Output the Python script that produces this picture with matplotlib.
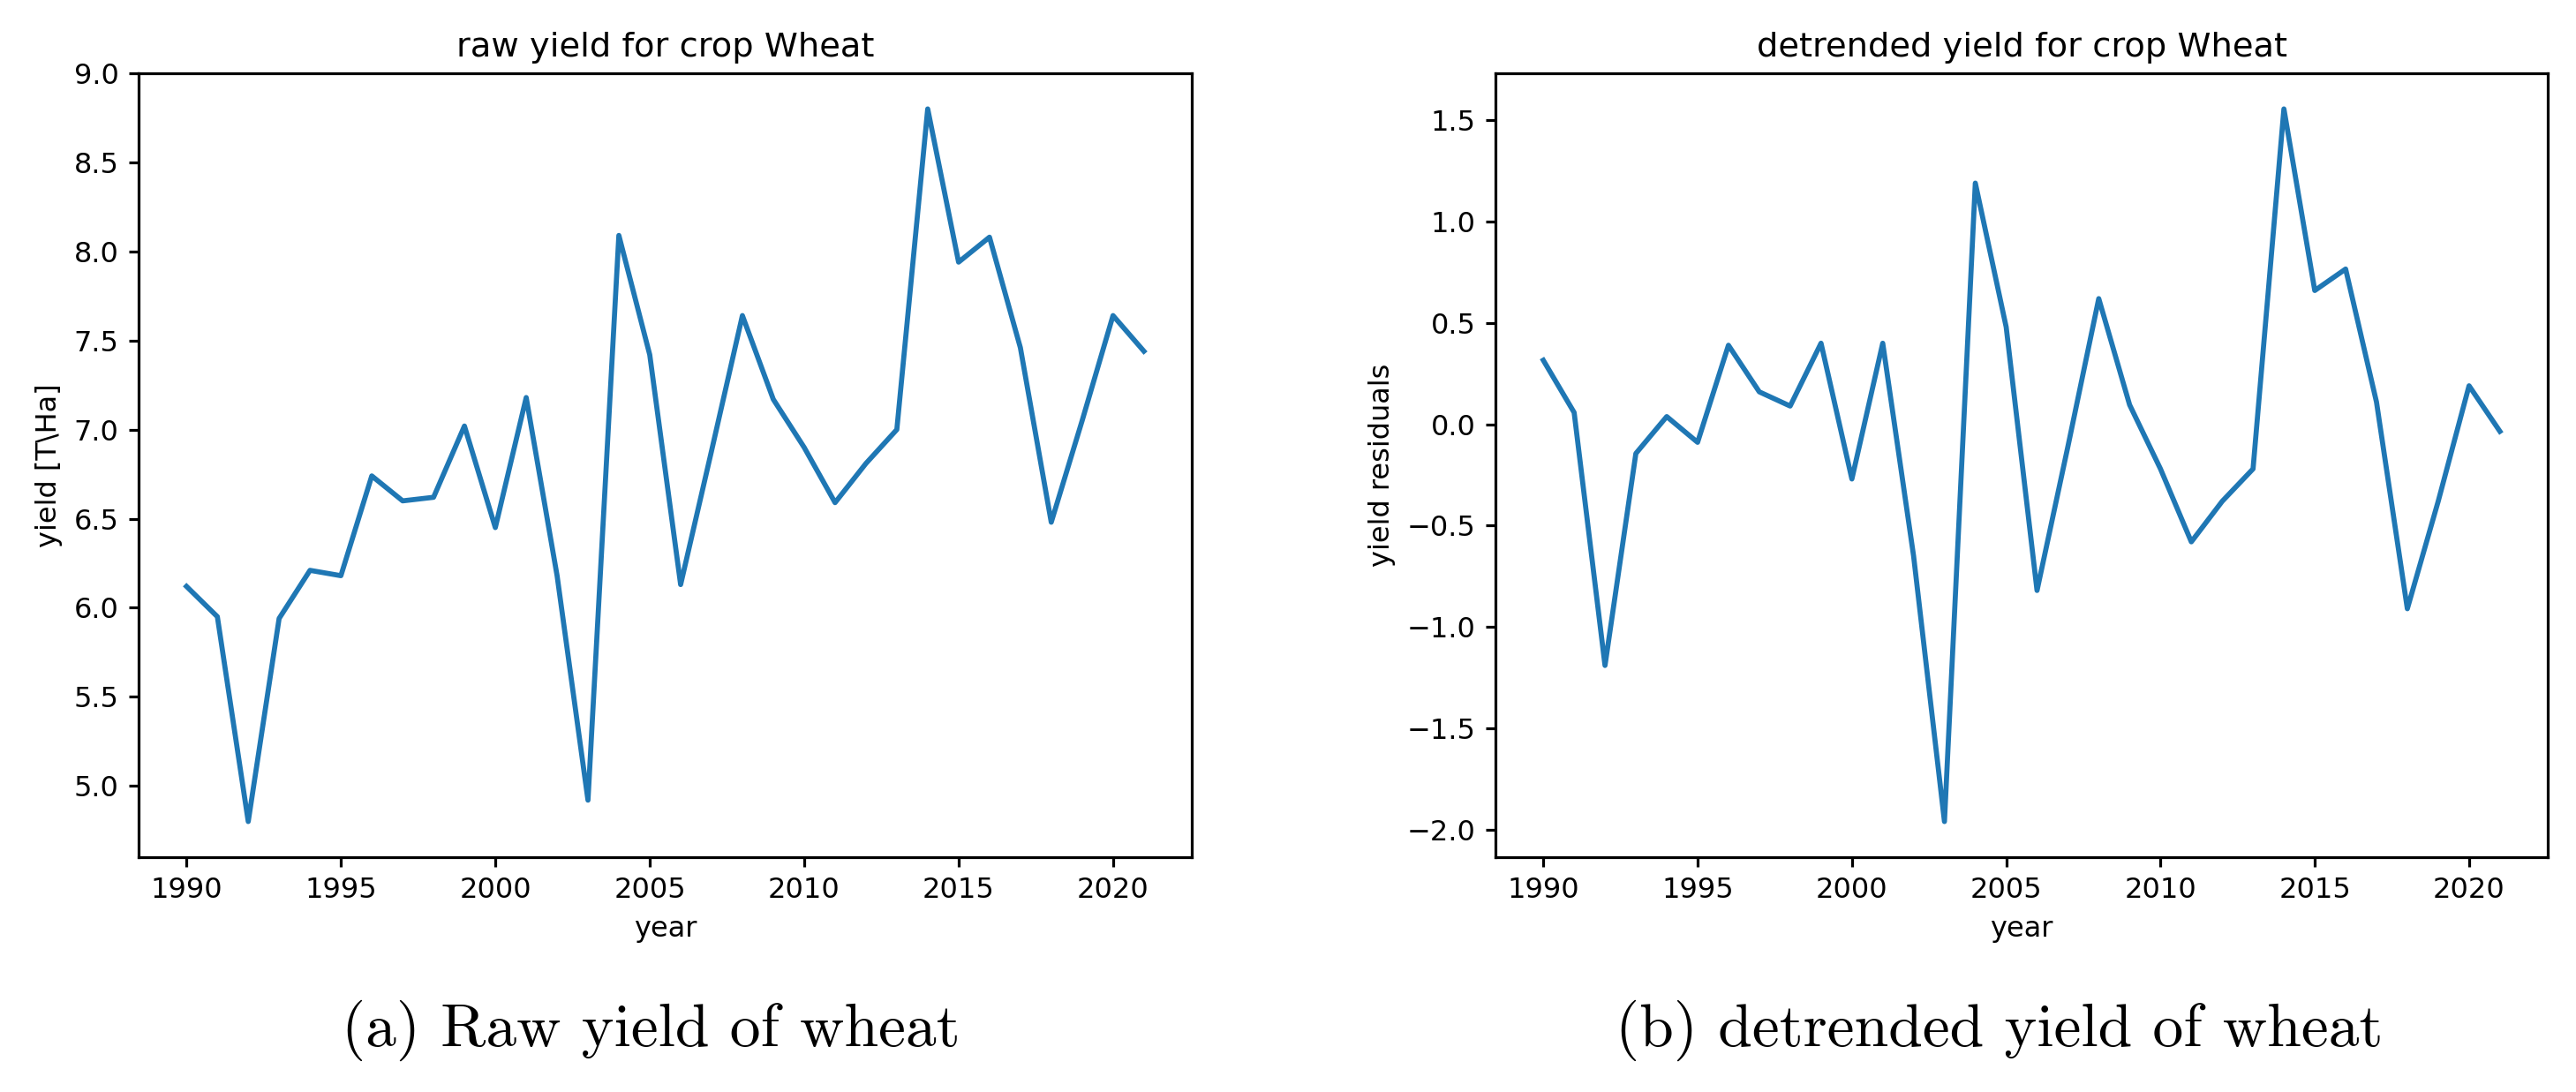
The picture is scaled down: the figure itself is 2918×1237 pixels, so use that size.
import numpy as np
import matplotlib
matplotlib.use('Agg')
import matplotlib.pyplot as plt

years = np.arange(1990, 2022)

raw_yield = [6.12, 5.95, 4.80, 5.94, 6.21, 6.18, 6.74, 6.60, 6.62, 7.02,
             6.45, 7.18, 6.18, 4.92, 8.09, 7.42, 6.13, 6.88, 7.64, 7.17,
             6.90, 6.59, 6.81, 7.00, 8.80, 7.94, 8.08, 7.46, 6.48, 7.05,
             7.64, 7.44]

detrended = [0.316, 0.058, -1.19, -0.144, 0.038, -0.089, 0.39, 0.16, 0.09, 0.40,
             -0.27, 0.40, -0.65, -1.96, 1.19, 0.48, -0.82, -0.11, 0.62, 0.096,
             -0.22, -0.58, -0.38, -0.22, 1.556, 0.66, 0.766, 0.11, -0.91, -0.38,
             0.19, -0.035]

plt.rcParams['axes.linewidth'] = 1.0
plt.rcParams['xtick.major.width'] = 1.0
plt.rcParams['ytick.major.width'] = 1.0

W, H, DPI = 2918, 1237, 230
fig = plt.figure(figsize=(W / DPI, H / DPI), dpi=DPI)

ax1 = fig.add_axes([157 / W, 1 - 971 / H, 1193 / W, 888 / H])
ax2 = fig.add_axes([1694 / W, 1 - 971 / H, 1192 / W, 888 / H])

ax1.plot(years, raw_yield, lw=1.8)
ax1.set_title('raw yield for crop Wheat')
ax1.set_xlabel('year')
ax1.set_ylabel('yield [T\\Ha]')

ax2.plot(years, detrended, lw=1.8)
ax2.set_title('detrended yield for crop Wheat')
ax2.set_xlabel('year')
ax2.set_ylabel('yield residuals')

# subfigure captions (LaTeX style)
fig.text(737 / W, 1 - 1185 / H, '(a) Raw yield of wheat', family='cmr10',
         fontsize=21.8, ha='center', va='baseline')
fig.text(2265 / W, 1 - 1185 / H, '(b) detrended yield of wheat', family='cmr10',
         fontsize=21.8, ha='center', va='baseline')

fig.savefig('out.png', dpi=DPI)
